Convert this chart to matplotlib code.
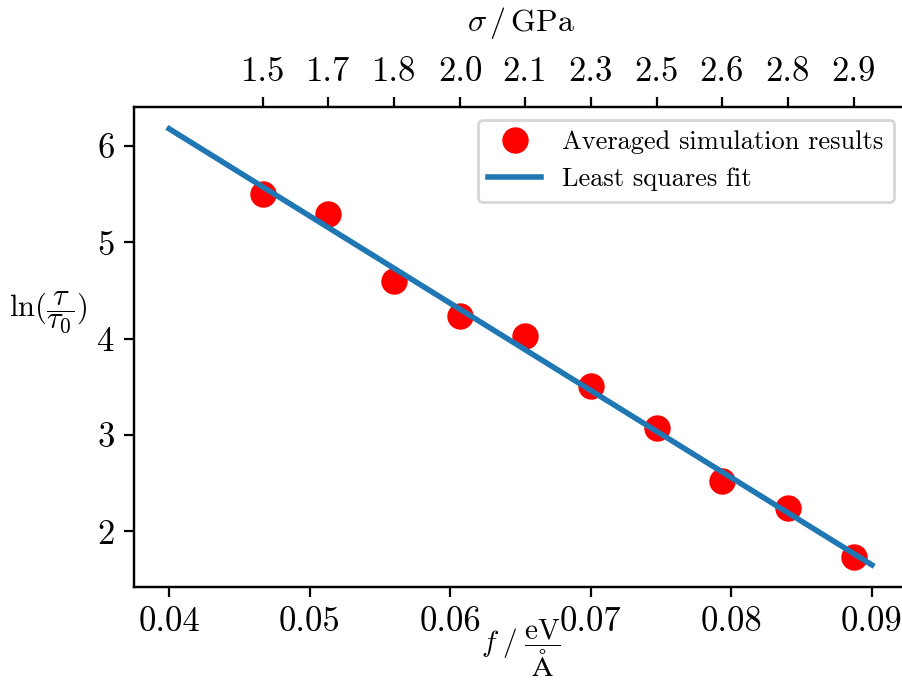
"""Relaxation time vs. applied force, with least squares fit."""

import matplotlib
matplotlib.use("Agg")
import matplotlib.pyplot as plt
import numpy as np

plt.rcParams["font.family"] = "serif"
plt.rcParams["font.serif"] = ["cmr10"]
plt.rcParams["mathtext.fontset"] = "cm"
plt.rcParams["axes.formatter.use_mathtext"] = True
plt.rcParams["font.size"] = 12.5

# data
force = [0.0467, 0.0513, 0.0560, 0.0607, 0.0653, 0.0700, 0.0747, 0.0793, 0.0840, 0.0887]
ln_tau = [5.50, 5.29, 4.60, 4.24, 4.03, 3.51, 3.07, 2.52, 2.24, 1.73]
stress_labels = ["1.5", "1.7", "1.8", "2.0", "2.1", "2.3", "2.5", "2.6", "2.8", "2.9"]
fit_range = [0.04, 0.09]


def main() -> None:
    slope, intercept = np.polyfit(force, ln_tau, 1)
    fit_x = np.array(fit_range)
    fit_y = slope * fit_x + intercept

    fig = plt.figure(figsize=(4.51, 3.425), dpi=200)
    ax = fig.add_axes([0.1486, 0.1435, 0.857, 0.7003])
    ax.plot(force, ln_tau, "o", color="red", markersize=8.5, label="Averaged simulation results")
    ax.plot(fit_x, fit_y, "-", color="#1f77b4", lw=2, label="Least squares fit")
    ax.set_xticks([0.04, 0.05, 0.06, 0.07, 0.08, 0.09])
    ax.set_xticklabels(["0.04", "0.05", "0.06", "0.07", "0.08", "0.09"])
    ax.set_yticks([2, 3, 4, 5, 6])
    ax.set_xlabel(r"$f\;/\;\dfrac{\mathrm{eV}}{\mathrm{\AA}}$", fontsize=10.5, labelpad=-7)
    ax.set_ylabel(r"$\ln(\dfrac{\tau}{\tau_0})$", fontsize=11, rotation=0, ha="center", va="center")
    ax.yaxis.set_label_coords(-0.111, 0.57)
    ax.legend(loc="upper right", fontsize=9.5)

    top = ax.twiny()
    top.set_xlim(ax.get_xlim())
    top.set_xticks(force)
    top.set_xticklabels(stress_labels)
    top.set_xlabel(r"$\sigma\,/\,\mathrm{GPa}$", fontsize=11.5, labelpad=9)

    fig.savefig("out.png", dpi=200)
    plt.close(fig)


if __name__ == "__main__":
    main()
